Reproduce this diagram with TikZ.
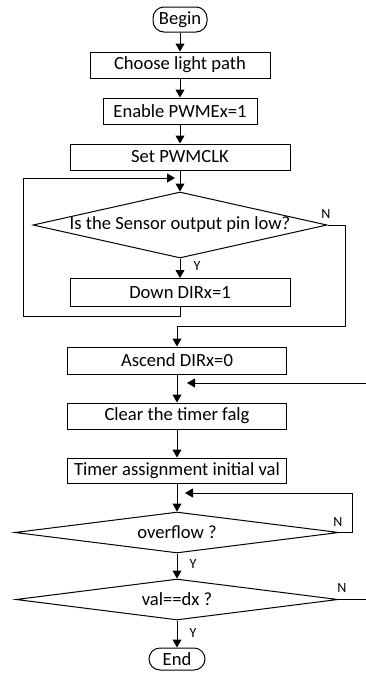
\documentclass[tikz,border=0pt]{standalone}
\usepackage{fontspec}
\setmainfont{Carlito}
\usetikzlibrary{arrows.meta,shapes.geometric}
\begin{document}
\begin{tikzpicture}[x=1pt,y=-1pt,
  every node/.style={font=\fontsize{18.6}{20}\selectfont},
  flow/.style={line width=1pt},
  arr/.style={flow,-{Triangle[length=8pt,width=9pt]}},
  proc/.style={draw,line width=1pt,rectangle,inner sep=0pt,minimum height=26pt},
  term/.style={draw,line width=1pt,rectangle,rounded corners=11pt,inner sep=0pt,minimum height=24pt},
  dec/.style={draw,line width=1pt,diamond,inner sep=0pt},
  yn/.style={font=\fontsize{14}{16}\selectfont,inner sep=0pt}]
\useasboundingbox (0,0) rectangle (366,673);

% process steps
\node[term,minimum width=54pt,minimum height=25pt] (begin) at (180,19.5) {Begin};
\node[proc,minimum width=180pt] (choose) at (180,65) {Choose light path};
\node[proc,minimum width=154pt] (enable) at (180,111) {Enable PWMEx=1};
\node[proc,minimum width=220pt] (setclk) at (180,157) {Set PWMCLK};
\node[dec,minimum width=294pt,minimum height=66pt] (sensor) at (180,225) {};
\node (sensortxt) at (sensor) {Is the Sensor output pin low?};
\node[proc,minimum width=220pt,minimum height=28pt] (down) at (180,292.5) {Down DIRx=1};
\node[proc,minimum width=219pt,minimum height=27pt] (ascend) at (177,360.5) {Ascend DIRx=0};
\node[proc,minimum width=219pt] (clear) at (177,416) {Clear the timer falg};
\node[proc,minimum width=219pt,minimum height=25pt] (timer) at (177,470.5) {Timer assignment initial val};
\node[dec,minimum width=324pt,minimum height=41pt] (ovf) at (177,532.5) {};
\node (ovftxt) at (ovf) {overflow ?};
\node[dec,minimum width=322pt,minimum height=41pt] (valdx) at (177,599.5) {};
\node (valtxt) at (valdx) {val==dx ?};
\node[term,minimum width=56pt,minimum height=22pt] (end) at (177,659) {End};

% branch labels
\node[yn] (n1) at (326,214) {N};
\node[yn] (y1) at (197,266) {Y};
\node[yn] (n2) at (338,522) {N};
\node[yn] (y2) at (193,564) {Y};
\node[yn] (n3) at (342,588) {N};
\node[yn] (y3) at (193,633) {Y};

% loose ends of the loops
\coordinate (loopin) at (175,178);
\coordinate (retin) at (366,383);
\coordinate (rettip) at (187,383);
\coordinate (ovftip) at (185,493);
\coordinate (valout) at (366,599.5);

% main flow
\draw[arr] (begin) -- (choose);
\draw[arr] (choose) -- (enable);
\draw[arr] (enable) -- (setclk);
\draw[arr] (setclk) -- (sensor);
\draw[arr] (sensor) -- (down);
\draw[arr] (down.south) -- (180,316) -| (23,178) -- (loopin);
\draw[arr] (sensor.east) -| (345,326) -| (ascend.north);
\draw[arr] (ascend) -- (clear);
\draw[arr] (retin) -- (rettip);
\draw[arr] (clear) -- (timer);
\draw[arr] (timer) -- (ovf);
\draw[arr] (ovf.east) -| (352,493) -- (ovftip);
\draw[arr] (ovf) -- (valdx);
\draw[flow] (valdx.east) -- (valout);
\draw[arr] (valdx) -- (end);
\end{tikzpicture}
\end{document}
